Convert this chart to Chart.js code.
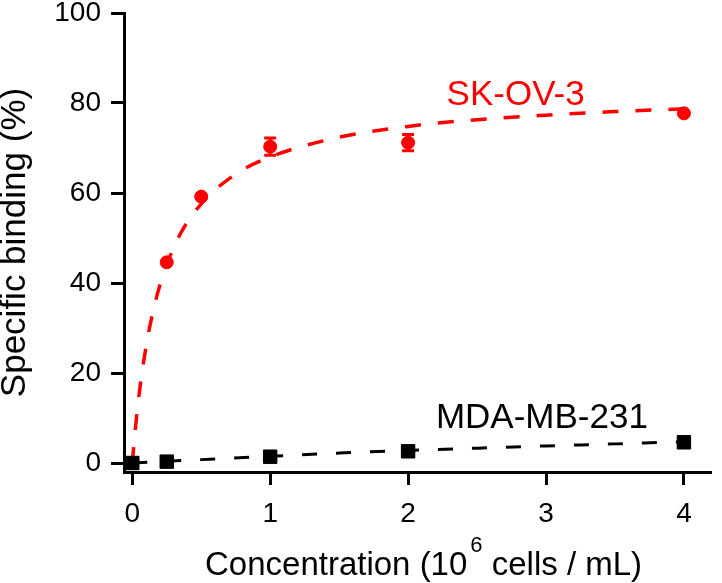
<!DOCTYPE html>
<html><head><meta charset="utf-8">
<script src="https://cdn.jsdelivr.net/npm/chart.js@4.4.0/dist/chart.umd.min.js"></script>
<style>html,body{margin:0;padding:0;background:#fff;}canvas{display:block;}</style>
</head><body>
<canvas id="c" width="722" height="583"></canvas>
<script>
// ---- data ----
const skConc = [0, 0.25, 0.5, 1, 2, 4];
const skBinding = [0, 44.6, 59.2, 70.3, 71.2, 77.7];
const skError = [0, 0, 0, 1.9, 1.8, 0];
const mdaConc = [0, 0.25, 1, 2, 4];
const mdaBinding = [0, 0.3, 1.4, 2.6, 4.6];
const skFitConc = [0, 0.02, 0.05, 0.1, 0.15, 0.2, 0.25, 0.35, 0.5, 0.75, 1, 1.5, 2, 2.5, 3, 3.5, 4];
const skFitBinding = [0, 6.9, 15.4, 25.9, 33.6, 39.5, 44.1, 51.0, 57.6, 64.2, 68.0, 72.4, 74.8, 76.3, 77.3, 78.1, 78.7];
const mdaFitConc = [0, 0.5, 1, 1.5, 2, 2.5, 3, 3.5, 4];
const mdaFitBinding = [0, 0.75, 1.5, 2.2, 2.8, 3.3, 3.8, 4.25, 4.75];
const xTicks = [0, 1, 2, 3, 4];
const yTicks = [0, 20, 40, 60, 80, 100];
const seriesNames = ['SK-OV-3', 'MDA-MB-231'];
const xTitleParts = ['Concentration (10', '6', ' cells / mL)'];
const yTitle = 'Specific binding (%)';

const FONT = '"Liberation Sans", Arial, sans-serif';
const toPts = (xs, ys) => xs.map((v, i) => ({x: v, y: ys[i]}));

// label anchors in data units (centre x, baseline y)
const labelAnchors = [
  {text: seriesNames[0], x: 2.78, y: 79.6, color: '#ff0000'},
  {text: seriesNames[1], x: 2.97, y: 7.8, color: '#000000'}
];

const extras = {
  id: 'extras',
  afterDatasetsDraw(chart) {
    const {ctx, scales: {x, y}} = chart;
    ctx.save();
    ctx.strokeStyle = '#ff0000';
    ctx.lineWidth = 3;
    skConc.forEach((c, i) => {
      const e = skError[i];
      if (!e) return;
      const px = x.getPixelForValue(c);
      const y1 = y.getPixelForValue(skBinding[i] + e);
      const y2 = y.getPixelForValue(skBinding[i] - e);
      ctx.beginPath();
      ctx.moveTo(px, y1); ctx.lineTo(px, y2);
      ctx.moveTo(px - 6, y1); ctx.lineTo(px + 6, y1);
      ctx.moveTo(px - 6, y2); ctx.lineTo(px + 6, y2);
      ctx.stroke();
    });
    ctx.restore();
  },
  afterDraw(chart) {
    const {ctx, scales: {x, y}} = chart;
    ctx.save();
    ctx.textBaseline = 'alphabetic';
    ctx.font = '35px ' + FONT;
    ctx.textAlign = 'center';
    labelAnchors.forEach(l => {
      ctx.fillStyle = l.color;
      ctx.fillText(l.text, x.getPixelForValue(l.x), y.getPixelForValue(l.y));
    });
    // x axis title with superscript
    ctx.fillStyle = '#000';
    ctx.textAlign = 'left';
    const base = 575;
    let cx = 205;
    ctx.font = '33px ' + FONT;
    ctx.fillText(xTitleParts[0], cx, base);
    cx += ctx.measureText(xTitleParts[0]).width + 3;
    ctx.font = '22px ' + FONT;
    ctx.fillText(xTitleParts[1], cx, base - 23);
    cx += ctx.measureText(xTitleParts[1]).width;
    ctx.font = '33px ' + FONT;
    ctx.fillText(xTitleParts[2], cx, base);
    ctx.restore();
  }
};

new Chart(document.getElementById('c'), {
  type: 'scatter',
  data: {
    datasets: [
      {label: seriesNames[1], data: toPts(mdaConc, mdaBinding), pointStyle: 'rect', pointRadius: 9.5,
       backgroundColor: '#000', borderColor: '#000', borderWidth: 1, showLine: false},
      {label: seriesNames[1] + ' fit', data: toPts(mdaFitConc, mdaFitBinding), showLine: true, pointRadius: 0,
       borderColor: '#000', borderWidth: 3, borderDash: [15, 19], fill: false, cubicInterpolationMode: 'monotone'},
      {label: seriesNames[0], data: toPts(skConc, skBinding), pointStyle: 'circle', pointRadius: 6.5,
       backgroundColor: '#ff0000', borderColor: '#ff0000', borderWidth: 1, showLine: false},
      {label: seriesNames[0] + ' fit', data: toPts(skFitConc, skFitBinding), showLine: true, pointRadius: 0,
       borderColor: '#ff0000', borderWidth: 3.5, borderDash: [16, 17], fill: false, cubicInterpolationMode: 'monotone'}
    ]
  },
  options: {
    responsive: false,
    animation: false,
    devicePixelRatio: 1,
    layout: {padding: {top: 13, right: 2, left: 0, bottom: 0}},
    plugins: {legend: {display: false}, tooltip: {enabled: false}},
    scales: {
      x: {
        type: 'linear', min: -0.06, max: 4.2,
        afterBuildTicks: s => { s.ticks = xTicks.map(v => ({value: v})); },
        afterFit: s => { s.height = 111; s.paddingLeft = 0; s.paddingRight = 0; },
        grid: {drawOnChartArea: false, drawTicks: true, tickLength: 13, tickWidth: 3, tickColor: '#000'},
        border: {display: true, width: 3, color: '#000'},
        ticks: {font: {family: FONT, size: 28}, color: '#000', padding: 12, maxRotation: 0, autoSkip: false}
      },
      y: {
        type: 'linear', min: -2, max: 100,
        afterBuildTicks: s => { s.ticks = yTicks.map(v => ({value: v})); },
        afterFit: s => { s.width = 124; s.paddingTop = 0; s.paddingBottom = 0; },
        grid: {drawOnChartArea: false, drawTicks: true, tickLength: 13, tickWidth: 3, tickColor: '#000'},
        border: {display: true, width: 3, color: '#000'},
        ticks: {font: {family: FONT, size: 28}, color: '#000', padding: 10, autoSkip: false},
        title: {display: true, text: yTitle, color: '#000', font: {family: FONT, size: 35, lineHeight: 0.9}, padding: 0}
      }
    }
  },
  plugins: [extras]
});
</script>
</body></html>
